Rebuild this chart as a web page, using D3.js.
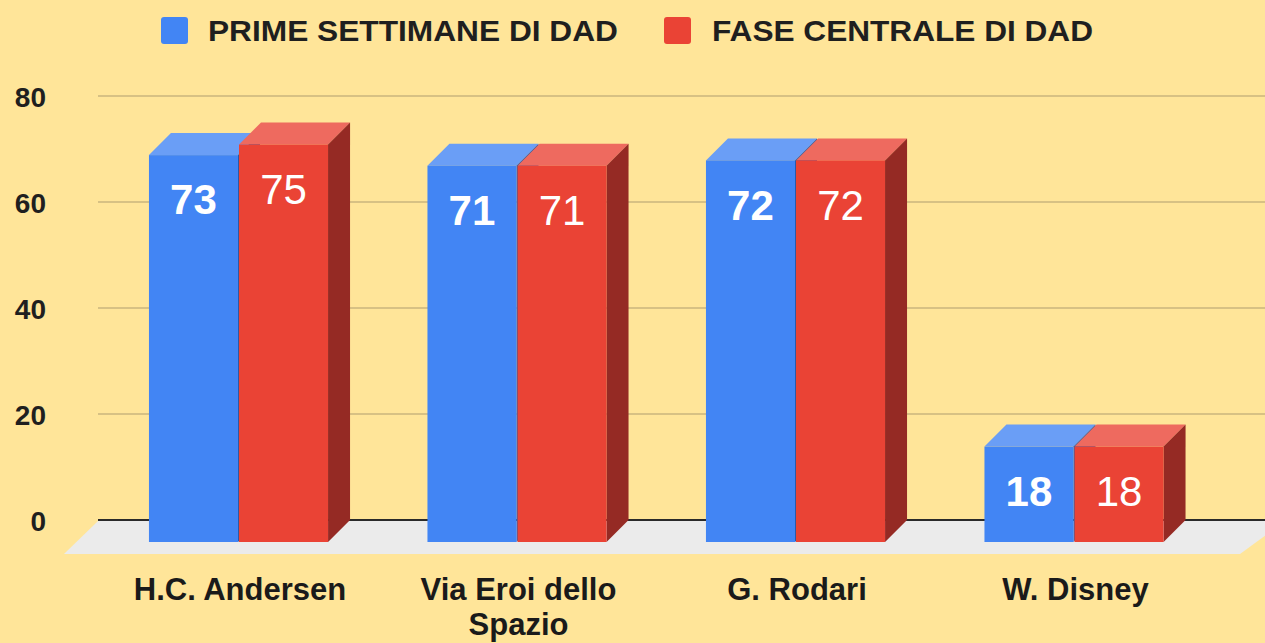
<!DOCTYPE html>
<html>
<head>
<meta charset="utf-8">
<script src="https://cdn.jsdelivr.net/npm/d3@7"></script>
<style>
  html, body { margin: 0; padding: 0; background: #ffe599; }
  svg { display: block; }
  text { font-family: "Liberation Sans", Arial, sans-serif; }
</style>
</head>
<body>
<svg id="chart" width="1265" height="643"></svg>
<script>
const categories = ["H.C. Andersen", "Via Eroi dello Spazio", "G. Rodari", "W. Disney"];
const seriesNames = ["PRIME SETTIMANE DI DAD", "FASE CENTRALE DI DAD"];
const primeSettimane = [73, 71, 72, 18];
const faseCentrale = [75, 71, 72, 18];
const yTicks = [0, 20, 40, 60, 80];

const seriesValues = [primeSettimane, faseCentrale];
const colors = [
  {front: "#4285f4", top: "#6a9ef6", side: "#2b59a8"},
  {front: "#ea4335", top: "#ee6a5f", side: "#952a24"}
];

const W = 1265, H = 643;
const depth = 22;
const svg = d3.select("#chart");

svg.append("rect").attr("width", W).attr("height", H).attr("fill", "#ffe599");

// scales (front plane)
const y = d3.scaleLinear().domain([0, 80]).range([542, 118]);
const x0 = d3.scaleBand().domain(categories).range([99.25, 1213.25])
  .paddingInner(0.357).paddingOuter(0.1785);
const x1 = d3.scaleBand().domain(seriesNames).range([0, x0.bandwidth()]).padding(0);

// gridlines on back plane
const gridG = svg.append("g");
gridG.selectAll("line").data(yTicks.filter(d => d !== 0)).join("line")
  .attr("x1", 98).attr("x2", W)
  .attr("y1", d => y(d) - depth).attr("y2", d => y(d) - depth)
  .attr("stroke", "#cab47e").attr("stroke-width", 1.5);

// floor
const backY = y(0) - depth;
svg.append("polygon")
  .attr("points", [[98, backY + 1], [W + 20, backY + 1], [1240 + 0, backY + 34], [64, backY + 34]].map(p => p.join(",")).join(" "))
  .attr("fill", "#ebebeb");

// zero line
svg.append("line").attr("x1", 98).attr("x2", W).attr("y1", backY).attr("y2", backY)
  .attr("stroke", "#2a2a2a").attr("stroke-width", 2);

// y axis labels
const yAxis = d3.axisLeft(d3.scaleLinear().domain([0, 80]).range([y(0) - depth, y(80) - depth]))
  .tickValues(yTicks).tickSize(0).tickPadding(0);
const yAxisG = svg.append("g").attr("transform", "translate(46,0)").call(yAxis);
yAxisG.select(".domain").remove();
yAxisG.selectAll("text")
  .attr("font-size", 28).attr("font-weight", "bold").attr("fill", "#1f1f1f")
  .attr("font-family", "'Liberation Sans', Arial, sans-serif")
  .attr("dy", "0.36em").attr("text-anchor", "end");

// bars
const barsG = svg.append("g");
categories.forEach((cat, ci) => {
  seriesNames.forEach((s, si) => {
    const v = seriesValues[si][ci];
    const bx = x0(cat) + x1(s) + (si === 1 ? 0.5 : 0);
    const bw = x1.bandwidth() - 0.5;
    const yt = y(v), yb = y(0);
    const c = colors[si];
    const g = barsG.append("g");
    g.append("polygon")
      .attr("points", [[bx, yt], [bx + depth, yt - depth], [bx + bw + depth, yt - depth], [bx + bw, yt]].map(p => p.join(",")).join(" "))
      .attr("fill", c.top);
    g.append("polygon")
      .attr("points", [[bx + bw, yt], [bx + bw + depth, yt - depth], [bx + bw + depth, yb - depth], [bx + bw, yb]].map(p => p.join(",")).join(" "))
      .attr("fill", c.side);
    g.append("rect").attr("x", bx).attr("y", yt).attr("width", bw).attr("height", yb - yt)
      .attr("fill", c.front);
    g.append("text")
      .attr("x", bx + bw / 2).attr("y", yt + 44).attr("dy", "0.36em")
      .attr("text-anchor", "middle").attr("fill", "#ffffff")
      .attr("font-size", 42).attr("font-weight", si === 0 ? "bold" : "normal")
      .text(v);
  });
});

// x axis labels
const xAxisG = svg.append("g");
categories.forEach(cat => {
  const cx = x0(cat) + x0.bandwidth() / 2 + 1.5;
  const t = xAxisG.append("text").attr("x", cx).attr("y", 600)
    .attr("text-anchor", "middle").attr("font-size", 31).attr("font-weight", "bold")
    .attr("fill", "#1a1a1a");
  const words = cat.split(" ");
  let line = [], lineNo = 0;
  let tspan = t.append("tspan").attr("x", cx).attr("y", 600);
  words.forEach(w => {
    line.push(w);
    tspan.text(line.join(" "));
    if (tspan.node().getComputedTextLength() > 240 && line.length > 1) {
      line.pop();
      tspan.text(line.join(" "));
      line = [w];
      lineNo++;
      tspan = t.append("tspan").attr("x", cx).attr("y", 600 + lineNo * 35).text(w);
    }
  });
});

// legend
const legendItems = [
  {name: seriesNames[0], color: colors[0].front, sx: 161, tx: 208, tw: 410},
  {name: seriesNames[1], color: colors[1].front, sx: 664, tx: 712, tw: 381}
];
const legG = svg.append("g");
legendItems.forEach(it => {
  legG.append("rect").attr("x", it.sx).attr("y", 17).attr("width", 27).attr("height", 27)
    .attr("rx", 3).attr("fill", it.color);
  legG.append("text").attr("x", it.tx).attr("y", 41)
    .attr("font-size", 30).attr("font-weight", "bold").attr("fill", "#1f1f1f")
    .attr("textLength", it.tw).attr("lengthAdjust", "spacingAndGlyphs")
    .text(it.name);
});
</script>
</body>
</html>
